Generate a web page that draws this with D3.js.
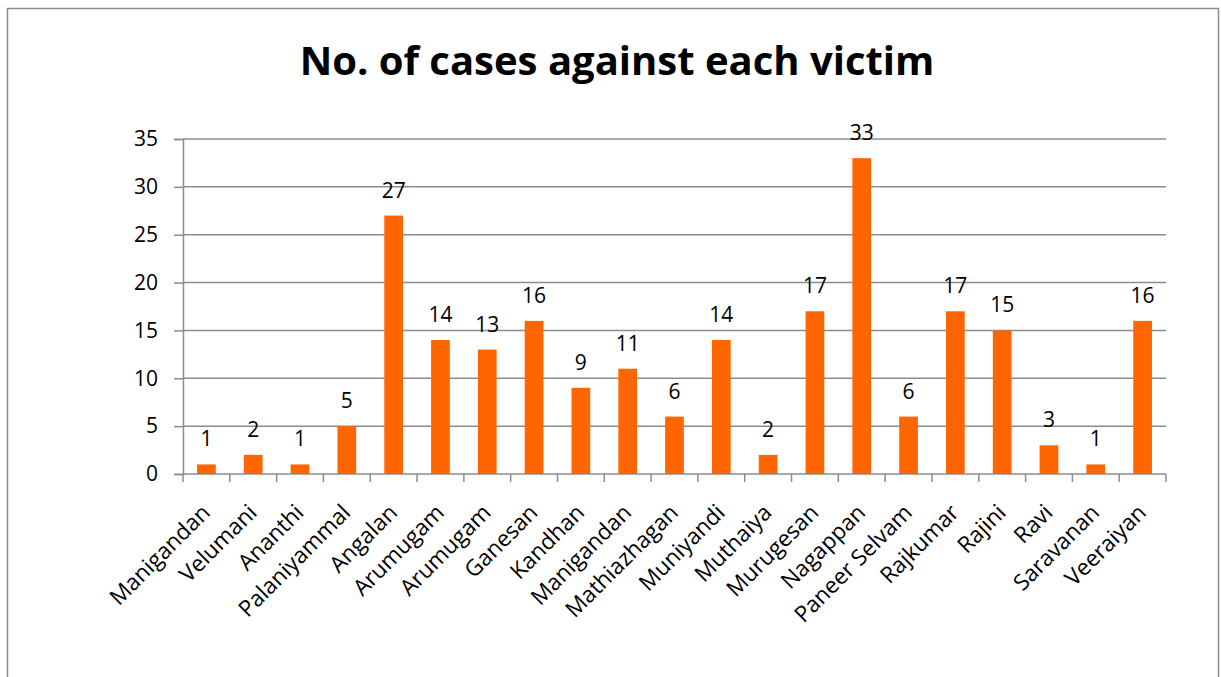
<!DOCTYPE html>
<html>
<head>
<meta charset="utf-8">
<script src="https://cdn.jsdelivr.net/npm/d3@7"></script>
<style>
  body { margin: 0; background: #fff; }
  svg { display: block; font-family: "Open Sans", sans-serif; }
</style>
</head>
<body>
<div id="chart"></div>
<script>
const names = ["Manigandan", "Velumani", "Ananthi", "Palaniyammal", "Angalan", "Arumugam", "Arumugam",
  "Ganesan", "Kandhan", "Manigandan", "Mathiazhagan", "Muniyandi", "Muthaiya", "Murugesan", "Nagappan",
  "Paneer Selvam", "Rajkumar", "Rajini", "Ravi", "Saravanan", "Veeraiyan"]
const cases = [1, 2, 1, 5, 27, 14, 13, 16, 9, 11, 6, 14, 2, 17, 33, 6, 17, 15, 3, 1, 16]
const yTicks = [0, 5, 10, 15, 20, 25, 30, 35]
const title = "No. of cases against each victim"

const width = 1221, height = 677
const margin = {top: 139, right: 55, bottom: 203, left: 183}

const svg = d3.select("#chart").append("svg")
  .attr("width", width)
  .attr("height", height)

// outer frame
svg.append("rect")
  .attr("x", 7.5).attr("y", 8.5)
  .attr("width", 1211).attr("height", 700)
  .attr("fill", "none").attr("stroke", "#8c8c8c").attr("stroke-width", 1.5)

svg.append("text")
  .attr("x", 617).attr("y", 75)
  .attr("text-anchor", "middle")
  .attr("font-size", 40).attr("font-weight", "bold")
  .text(title)

const x = d3.scaleBand()
  .domain(d3.range(names.length))
  .range([margin.left, width - margin.right])
  .paddingInner(0.6).paddingOuter(0.3)

const xb = d3.scaleBand()
  .domain(d3.range(names.length))
  .range([margin.left, width - margin.right])

const y = d3.scaleLinear()
  .domain([0, 35])
  .range([height - margin.bottom, margin.top])

// grid
svg.append("g")
  .selectAll("line")
  .data(yTicks.slice(1))
  .enter()
  .append("line")
  .attr("x1", margin.left).attr("x2", width - margin.right)
  .attr("y1", d => y(d)).attr("y2", d => y(d))
  .attr("stroke", "#8c8c8c").attr("stroke-width", 1.5)

// y axis
const yAxis = svg.append("g")
  .attr("transform", `translate(${margin.left},0)`)
  .call(d3.axisLeft(y).tickValues(yTicks).tickSize(9).tickPadding(16))
yAxis.selectAll("line, path").attr("stroke", "#8c8c8c").attr("stroke-width", 1.5)
yAxis.selectAll("text").attr("font-size", 21).attr("fill", "#000").attr("font-family", "Open Sans")

// x axis line and ticks at category boundaries
const xg = svg.append("g")
xg.append("line")
  .attr("x1", margin.left).attr("x2", width - margin.right)
  .attr("y1", y(0)).attr("y2", y(0))
  .attr("stroke", "#8c8c8c").attr("stroke-width", 1.5)
xg.selectAll(".tk")
  .data(d3.range(names.length + 1))
  .enter()
  .append("line")
  .attr("x1", d => margin.left + d * xb.step()).attr("x2", d => margin.left + d * xb.step())
  .attr("y1", y(0)).attr("y2", y(0) + 8)
  .attr("stroke", "#8c8c8c").attr("stroke-width", 1.5)

// bars
svg.append("g")
  .selectAll("rect")
  .data(cases)
  .enter()
  .append("rect")
  .attr("x", (d, i) => x(i))
  .attr("y", d => y(d))
  .attr("width", x.bandwidth())
  .attr("height", d => y(0) - y(d))
  .attr("fill", "#ff6600")

// value labels
svg.append("g")
  .selectAll("text")
  .data(cases)
  .enter()
  .append("text")
  .attr("x", (d, i) => x(i) + x.bandwidth() / 2)
  .attr("y", d => y(d) - 18)
  .attr("text-anchor", "middle")
  .attr("font-size", 21)
  .text(d => d)

// category labels
svg.append("g")
  .selectAll("text")
  .data(names)
  .enter()
  .append("text")
  .attr("text-anchor", "end")
  .attr("font-size", 22.5)
  .attr("transform", (d, i) => `translate(${xb(i) + xb.bandwidth() / 2 + 5},${y(0) + 40}) rotate(-45)`)
  .text(d => d)
</script>
</body>
</html>
